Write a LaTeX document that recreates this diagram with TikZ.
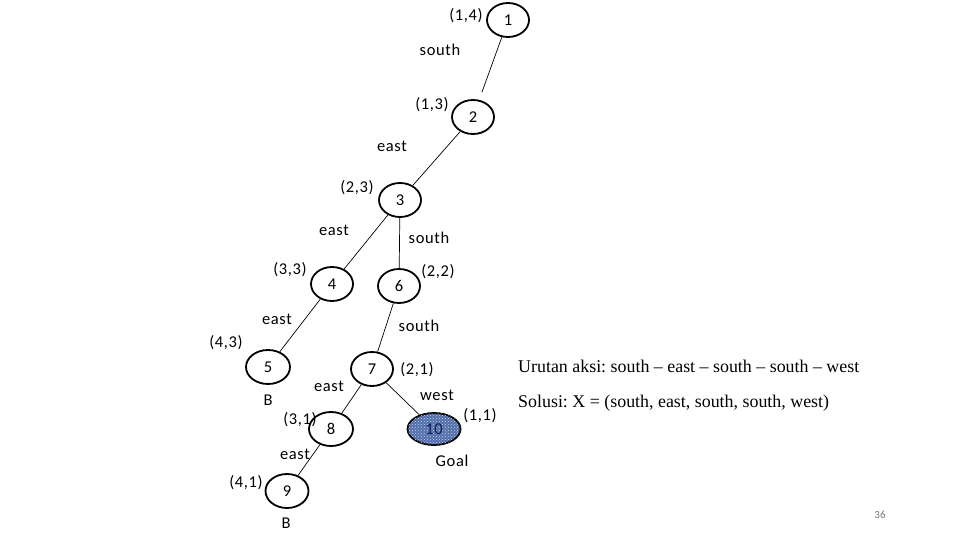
\documentclass[tikz,border=0pt]{standalone}
\usepackage{fontspec}
\setmainfont{Carlito}
\newfontfamily\diagf[LetterSpace=4]{Carlito}
\newfontfamily\serifx[Ligatures=TeX]{Liberation Serif}
\usetikzlibrary{shapes.geometric,patterns}
\definecolor{goalfill}{RGB}{80,110,170}
\definecolor{goaltext}{RGB}{20,30,80}
\definecolor{pagenum}{RGB}{120,120,120}
\tikzset{
  st/.style={ellipse,draw,line width=1.8pt,minimum width=42pt,minimum height=34pt,inner sep=0pt,font=\diagf\fontsize{16.5}{16.5}\selectfont},
  lb/.style={inner sep=0pt,font=\diagf\fontsize{16.5}{16.5}\selectfont},
  ed/.style={line width=0.7pt},
  rt/.style={inner sep=0pt,anchor=west,font=\serifx\fontsize{17.9}{17.9}\selectfont}
}
\frenchspacing
\begin{document}
\begin{tikzpicture}[x=1pt,y=-1pt]
\useasboundingbox (0,0) rectangle (960,540);
% states
\node[st] (n1) at (508,20) {1};
\node[st] (n2) at (473,117) {2};
\node[st] (n3) at (400,200) {3};
\node[st] (n4) at (332,284) {4};
\node[st] (n6) at (399,286) {6};
\node[st,minimum width=44pt] (n5) at (268,367) {5};
\node[st] (n7) at (372,369) {7};
\node[st,minimum width=44pt] (n8) at (331,429) {8};
\node[st,minimum width=53pt,minimum height=32pt,fill=goalfill,
  postaction={pattern=crosshatch dots,pattern color=white!70!goalfill},text=goaltext] (n10) at (434,429) {10};
\node[st,minimum width=43pt] (n9) at (287,491) {9};
% edges
\draw[ed,shorten >=8pt] (n1) -- (n2);
\draw[ed] (n2) -- (n3);
\draw[ed] (n3) -- (n4);
\draw[ed] (n3) -- (n6);
\draw[ed] (n4) -- (n5);
\draw[ed] (n6) -- (n7);
\draw[ed] (n7) -- (n8);
\draw[ed] (n7) -- (n10);
\draw[ed] (n8) -- (n9);
% labels
\node[lb] (c14) at (466,16) {(1,4)};
\node[lb] (a1) at (440,50) {south};
\node[lb] (c13) at (432,105) {(1,3)};
\node[lb] (a2) at (392,146) {east};
\node[lb] (c23) at (357,188) {(2,3)};
\node[lb] (a3) at (334,230) {east};
\node[lb] (a4) at (429,238) {south};
\node[lb] (c33) at (290,270) {(3,3)};
\node[lb] (c22) at (438,272) {(2,2)};
\node[lb] (a5) at (277,319) {east};
\node[lb] (a6) at (419,326) {south};
\node[lb] (c43) at (226,343) {(4,3)};
\node[lb] (c21) at (417,370) {(2,1)};
\node[lb] (a7) at (329,386) {east};
\node[lb] (b1) at (268,400) {B};
\node[lb] (a8) at (437,395) {west};
\node[lb] (c31) at (300,420) {(3,1)};
\node[lb] (c11) at (480,416) {(1,1)};
\node[lb] (a9) at (295,454) {east};
\node[lb] (goal) at (452,461) {Goal};
\node[lb] (c41) at (246,483) {(4,1)};
\node[lb] (b2) at (286,523) {B};
% right text
\node[rt] (t1) at (518,366) {Urutan aksi: south – east – south – south – west};
\node[rt] (t2) at (518,403) {Solusi: X = (south, east, south, south, west)};
\node[inner sep=0pt,text=pagenum,font=\fontsize{11}{11}\selectfont] (pg) at (880,515) {36};
\end{tikzpicture}
\end{document}
